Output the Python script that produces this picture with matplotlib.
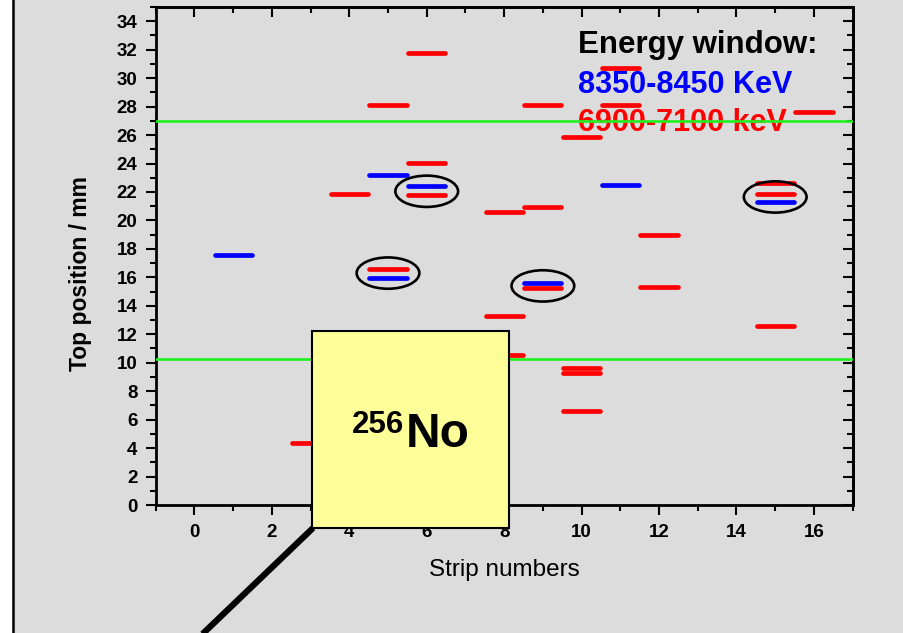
import matplotlib.pyplot as plt
from matplotlib.patches import Ellipse, Rectangle
from matplotlib.lines import Line2D
from matplotlib.ticker import MultipleLocator

plt.rcParams['font.family'] = ['Liberation Sans', 'DejaVu Sans']

# events in the 6900-7100 keV window (red) and 8350-8450 keV window (blue)
red_strips = [3, 4, 5, 5, 6, 6, 6, 8, 8, 8, 9, 9, 9, 10, 10, 10, 10,
              11, 11, 12, 12, 15, 15, 15, 16]
red_pos = [4.38, 21.86, 28.1, 16.62, 31.8, 24.06, 21.77, 20.62, 13.28, 10.51,
           28.1, 20.97, 15.24, 25.89, 9.64, 9.27, 6.58, 30.71, 28.1, 19.0,
           15.33, 22.64, 21.84, 12.55, 27.6]
blue_strips = [1, 5, 5, 6, 9, 11, 15]
blue_pos = [17.6, 23.22, 15.96, 22.40, 15.61, 22.49, 21.32]

# correlated pairs that are circled
ring_strips = [5, 6, 9, 15]
ring_pos = [16.3, 22.05, 15.4, 21.65]

# position window limits
window_lines = [27.0, 10.27]

x_ticks = list(range(0, 17, 2))
y_ticks = list(range(0, 35, 2))

bg = '#dcdcdc'
fig = plt.figure(figsize=(9.04, 6.33), dpi=100, facecolor=bg)
ax = fig.add_axes([0.1722, 0.2022, 0.7710, 0.7867])
ax.set_facecolor(bg)

half = 0.48
ax.hlines(red_pos, [s - half for s in red_strips], [s + half for s in red_strips],
          colors='#ff0000', lw=3.4, capstyle='round', zorder=2)
ax.hlines(blue_pos, [s - half for s in blue_strips], [s + half for s in blue_strips],
          colors='#0000ff', lw=3.4, capstyle='round', zorder=2)

for sx, sy in zip(ring_strips, ring_pos):
    ax.add_patch(Ellipse((sx, sy), 1.62, 2.2, fill=False, ec='k', lw=1.9, zorder=4))

for wy in window_lines:
    ax.axhline(wy, color='#1ff01f', lw=1.9, zorder=5)

ax.text(0.606, 0.907, 'Energy window:', transform=ax.transAxes,
        fontsize=22.5, weight='bold', color='black', va='baseline')
ax.text(0.606, 0.8267, '8350-8450 KeV', transform=ax.transAxes,
        fontsize=22, weight='bold', color='#0000ff', va='baseline')
ax.text(0.606, 0.751, '6900-7100 keV', transform=ax.transAxes,
        fontsize=22, weight='bold', color='#ff0000', va='baseline')

ax.set_xlim(-1, 17)
ax.set_ylim(0, 35)
ax.set_xticks(x_ticks)
ax.set_yticks(y_ticks)
ax.xaxis.set_minor_locator(MultipleLocator(1))
ax.yaxis.set_minor_locator(MultipleLocator(1))
ax.tick_params(which='both', direction='out', width=1.5, top=False, right=False)
ax.tick_params(which='major', length=7.5, labelsize=13.5)
ax.tick_params(which='minor', length=4)
ax.tick_params(axis='x', pad=6.5)
ax.tick_params(axis='y', pad=5.5)
for lab in ax.get_xticklabels() + ax.get_yticklabels():
    lab.set_fontweight('bold')
for sp in ax.spines.values():
    sp.set_linewidth(2)

# top and right axes with inward ticks
top = ax.secondary_xaxis('top')
top.set_xticks(x_ticks)
top.xaxis.set_minor_locator(MultipleLocator(1))
top.tick_params(which='both', direction='in', width=1.5, labeltop=False)
top.tick_params(which='major', length=7.5)
top.tick_params(which='minor', length=4.5)
top.spines['top'].set_linewidth(2)

right = ax.secondary_yaxis('right')
right.set_yticks(y_ticks)
right.yaxis.set_minor_locator(MultipleLocator(1))
right.tick_params(which='both', direction='in', width=1.5, labelright=False)
right.tick_params(which='major', length=7.5)
right.tick_params(which='minor', length=4.5)
right.spines['right'].set_linewidth(2)

ax.set_xlabel('Strip numbers', fontsize=17.5)
ax.xaxis.set_label_coords(0.5, -0.108)
ax.set_ylabel('Top position / mm', fontsize=16.5, weight='bold')
ax.yaxis.set_label_coords(-0.0918, 0.465)

# white margin and frame line at the left edge
fig.add_artist(Rectangle((0, 0), 12 / 904, 1, transform=fig.transFigure,
                         fc='white', ec='none', zorder=1))
fig.add_artist(Line2D([13 / 904, 13 / 904], [0, 1], transform=fig.transFigure,
                      color='black', lw=1.8))

# nuclide label box with pointer
fig.add_artist(Rectangle((312 / 904, 1 - 527.7 / 633), 197 / 904, 196.7 / 633,
                         transform=fig.transFigure, fc='#ffff99', ec='black',
                         lw=1.5, zorder=6))
fig.add_artist(Line2D([313 / 904, 190 / 904], [1 - 528 / 633, 1 - 646 / 633],
                      transform=fig.transFigure, color='black', lw=4.5,
                      solid_capstyle='butt', zorder=6))
fig.text(352 / 904, 1 - 433.3 / 633, '256', fontsize=22.5, weight='bold',
         va='baseline', zorder=7)
fig.text(406 / 904, 1 - 446.7 / 633, 'No', fontsize=34.5, weight='bold',
         va='baseline', zorder=7)

fig.savefig('out.png', dpi=100, facecolor=bg)
